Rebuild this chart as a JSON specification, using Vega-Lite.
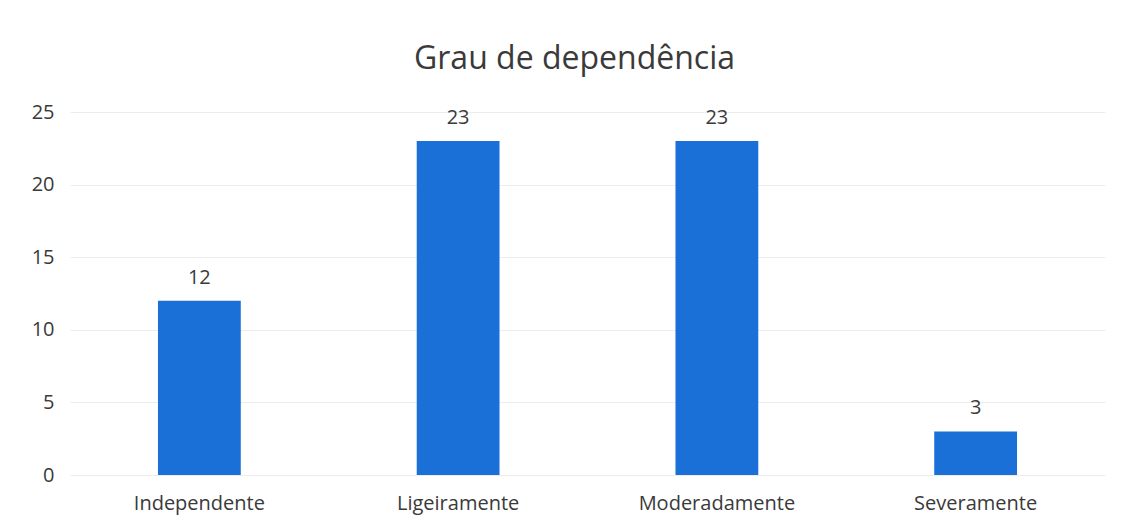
{
  "$schema": "https://vega.github.io/schema/vega-lite/v6.json",
  "width": 1035,
  "height": 363,
  "autosize": {"type": "none"},
  "padding": {"left": 70, "top": 112, "right": 23, "bottom": 42},
  "background": "white",
  "title": {
    "text": "Grau de dependência",
    "fontSize": 32,
    "font": "Open Sans",
    "fontWeight": "normal",
    "color": "#3a3a3a",
    "anchor": "middle",
    "dx": -13,
    "offset": 26
  },
  "data": {
    "values": [
      {"categoria": "Independente", "valor": 12},
      {"categoria": "Ligeiramente", "valor": 23},
      {"categoria": "Moderadamente", "valor": 23},
      {"categoria": "Severamente", "valor": 3}
    ]
  },
  "encoding": {
    "x": {
      "field": "categoria",
      "type": "nominal",
      "sort": null,
      "scale": {"paddingInner": 0.68, "paddingOuter": 0.34},
      "axis": {
        "title": null,
        "labelAngle": 0,
        "labelFont": "Open Sans",
        "labelFontSize": 20,
        "labelColor": "#3a3a3a",
        "labelPadding": 18,
        "ticks": false,
        "domain": false
      }
    },
    "y": {
      "field": "valor",
      "type": "quantitative",
      "scale": {"domain": [0, 25]},
      "axis": {
        "title": null,
        "values": [0, 5, 10, 15, 20, 25],
        "labelFont": "Open Sans",
        "labelFontSize": 20,
        "labelColor": "#3a3a3a",
        "labelPadding": 16,
        "ticks": false,
        "domain": false,
        "gridColor": "#ededed",
        "gridWidth": 1
      }
    }
  },
  "layer": [
    {"mark": {"type": "bar", "color": "#1a70d6"}},
    {
      "mark": {"type": "text", "baseline": "bottom", "dy": -13, "font": "Open Sans", "fontSize": 20, "color": "#3a3a3a"},
      "encoding": {"text": {"field": "valor", "type": "quantitative"}}
    }
  ],
  "config": {"view": {"stroke": null}}
}
